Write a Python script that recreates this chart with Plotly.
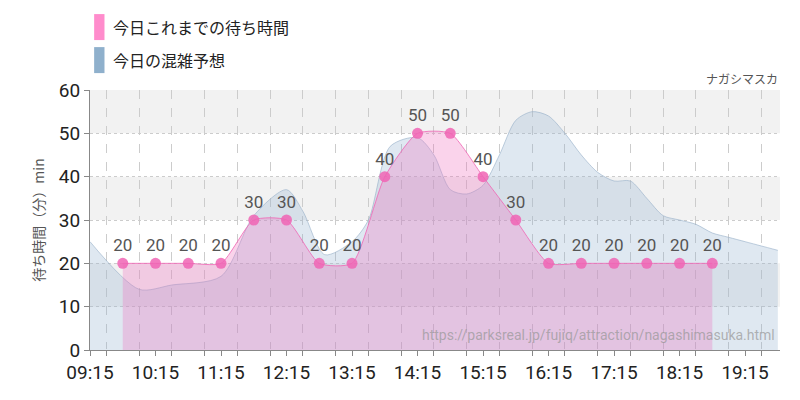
import plotly.graph_objects as go
from datetime import datetime

def t(s):
    h, m = map(int, s.split(":"))
    return datetime(2024, 1, 1, h, m)

wait_times = ["09:45","10:15","10:45","11:15","11:45","12:15","12:45","13:15","13:45","14:15",
              "14:45","15:15","15:45","16:15","16:45","17:15","17:45","18:15","18:45"]
wait_vals = [20,20,20,20,30,30,20,20,40,50,50,40,30,20,20,20,20,20,20]

fc_times = ["09:15","10:00","10:30","11:15","11:45","12:15","12:30","12:50","13:15","13:30","13:50",
            "14:15","14:30","14:45","15:00","15:15","15:30","15:45","16:00","16:15","16:30","16:45",
            "17:00","17:15","17:30","17:45","18:00","18:15","18:30","18:45","19:00","19:15","19:30","19:45"]
fc_vals = [25,14,15,17,31,37,32,22,25,30,47,49,45,37,36,38,45,53,55,54,50,45,41,39,39,35,31,30,29,27,26,25,24,23]

yticks = [0,10,20,30,40,50,60]
xtick_labels = ["09:15","10:15","11:15","12:15","13:15","14:15","15:15","16:15","17:15","18:15","19:15"]

fig = go.Figure()
fig.add_trace(go.Scatter(x=[t(s) for s in fc_times], y=fc_vals, mode="lines", fill="tozeroy",
    line=dict(color="rgba(150,175,200,0.6)", width=1, shape="spline", smoothing=0.8),
    fillcolor="rgba(150,180,210,0.3)", name="今日の混雑予想", showlegend=False))
fig.add_trace(go.Scatter(x=[t(s) for s in wait_times], y=wait_vals, mode="lines+markers+text", fill="tozeroy",
    line=dict(color="rgba(240,100,180,0.8)", width=1, shape="spline", smoothing=0.6),
    fillcolor="rgba(240,110,190,0.3)",
    marker=dict(color="rgba(240,100,180,0.85)", size=11),
    text=[str(v) for v in wait_vals], textposition="top center",
    textfont=dict(family="Roboto", size=17, color="#555"), showlegend=False))

for lo in [10, 30, 50]:
    fig.add_shape(type="rect", xref="paper", x0=0, x1=1, y0=lo, y1=lo+10, fillcolor="#f2f2f2",
                  line_width=0, layer="below")

for i, (name, col) in enumerate([("今日これまでの待ち時間", "#ff8ccc"), ("今日の混雑予想", "#8fb0cc")]):
    y = 1.242 - i*0.127
    fig.add_shape(type="rect", xref="paper", yref="paper", x0=0.006, x1=0.021, y0=y-0.05, y1=y+0.05,
                  fillcolor=col, line_width=0)
    fig.add_annotation(xref="paper", yref="paper", x=0.03, y=y, text=name, showarrow=False,
                       xanchor="left", yanchor="middle", font=dict(family="Noto Sans CJK JP", size=16, color="#222"))

fig.add_annotation(xref="paper", yref="paper", x=1, y=1.005, yanchor="bottom", xanchor="right",
                   text="ナガシマスカ", showarrow=False, font=dict(family="Noto Sans CJK JP", size=12, color="#555"))
fig.add_annotation(xref="paper", yref="paper", x=0.995, y=0.02, yanchor="bottom", xanchor="right",
                   text="https://parksreal.jp/fujiq/attraction/nagashimasuka.html", showarrow=False,
                   font=dict(family="Roboto", size=14, color="rgba(150,150,150,0.7)"))

fig.update_layout(width=800, height=400, margin=dict(l=82, r=28, t=82, b=58, autoexpand=False),
    plot_bgcolor="white", paper_bgcolor="white",
    xaxis=dict(range=[t("09:15"), t("19:47")], tickvals=[t(s) for s in xtick_labels], ticktext=xtick_labels,
               showgrid=False, automargin=False,
               tickfont=dict(family="Liberation Sans Narrow, Roboto", size=19, color="#222"),
               ticks="outside", ticklen=5, tickcolor="#888", showline=True, linecolor="#888",
               minor=dict(dtick=30*60*1000, showgrid=True, gridcolor="#ccc", griddash="dash",
                          ticks="outside", ticklen=5, tickcolor="#888")),
    yaxis=dict(range=[0, 60], tickvals=yticks, gridcolor="#ccc", griddash="dot", automargin=False,
               tickfont=dict(family="Liberation Sans Narrow, Roboto", size=19, color="#222"),
               showline=True, linecolor="#888",
               ticks="outside", ticklen=5, tickcolor="#888",
               title=dict(text="待ち時間（分）min", standoff=10,
                          font=dict(family="Noto Sans CJK JP", size=14, color="#555"))),
)
fig.write_html("out.html")
